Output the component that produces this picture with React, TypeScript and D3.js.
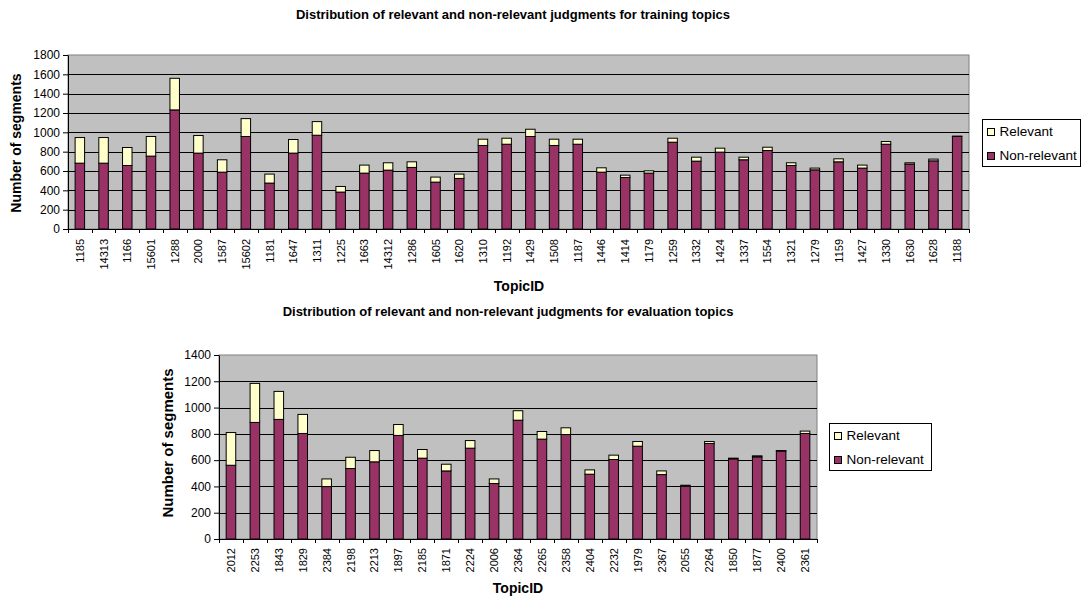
import { useEffect, useRef } from "react";
import * as d3 from "d3";

const trainTopics = [
  "1185", "14313", "1166", "15601", "1288", "2000", "1587", "15602", "1181", "1647",
  "1311", "1225", "1663", "14312", "1286", "1605", "1620", "1310", "1192", "1429",
  "1508", "1187", "1446", "1414", "1179", "1259", "1332", "1424", "1337", "1554",
  "1321", "1279", "1159", "1427", "1330", "1630", "1628", "1188",
];
const trainNonRelevant = [
  681, 681, 657, 754, 1232, 785, 588, 957, 475, 785,
  970, 382, 578, 609, 637, 485, 523, 864, 877, 957,
  864, 877, 588, 533, 578, 898, 702, 795, 716, 812,
  657, 612, 695, 630, 877, 671, 705, 957,
];
const trainRelevant = [
  265, 265, 186, 203, 327, 182, 128, 185, 93, 141,
  141, 58, 83, 76, 58, 52, 45, 65, 62, 75,
  65, 52, 45, 24, 24, 41, 41, 41, 27, 34,
  28, 18, 31, 31, 28, 14, 18, 4,
];

const evalTopics = [
  "2012", "2253", "1843", "1829", "2384", "2198", "2213", "1897", "2185", "1871",
  "2224", "2006", "2364", "2265", "2358", "2404", "2232", "1979", "2367", "2055",
  "2264", "1850", "1877", "2400", "2361",
];
const evalNonRelevant = [
  561, 887, 910, 803, 399, 536, 587, 788, 615, 518,
  691, 422, 904, 760, 795, 493, 605, 706, 490, 401,
  727, 610, 625, 668, 803,
];
const evalRelevant = [
  249, 297, 213, 145, 58, 86, 86, 83, 66, 51,
  58, 35, 72, 58, 51, 33, 33, 36, 28, 8,
  15, 5, 8, 5, 18,
];

const seriesNames = ["Relevant", "Non-relevant"];
const colors = { nonRelevant: "#993366", relevant: "#FFFFCC", plot: "#C0C0C0" };
const font = "'Liberation Sans', Arial, sans-serif";

function drawChart(g, cfg) {
  const { left, right, top, bottom, yMax, step, topics, nonRel, rel, title, titleX, titleY, legend } = cfg;

  const x = d3.scaleBand().domain(topics).range([left, right]).paddingInner(0).paddingOuter(0);
  const y = d3.scaleLinear().domain([0, yMax]).range([bottom, top]);

  g.append("text")
    .attr("x", titleX)
    .attr("y", titleY)
    .attr("text-anchor", "middle")
    .attr("font-family", font)
    .attr("font-weight", "bold")
    .attr("font-size", 13)
    .text(title);

  // plot area
  g.append("rect")
    .attr("x", left)
    .attr("y", top)
    .attr("width", right - left)
    .attr("height", bottom - top)
    .attr("fill", colors.plot)
    .attr("stroke", "#808080")
    .attr("stroke-width", 1);

  const gridTicks = d3.range(step, yMax, step);
  g.selectAll(".grid" + cfg.id)
    .data(gridTicks)
    .enter()
    .append("line")
    .attr("x1", left)
    .attr("x2", right)
    .attr("y1", (d) => Math.round(y(d)) + 0.5)
    .attr("y2", (d) => Math.round(y(d)) + 0.5)
    .attr("stroke", "#000")
    .attr("stroke-width", 1);

  // bars
  const bw = x.bandwidth() * 0.4;
  topics.forEach((t, i) => {
    const cx = x(t) + x.bandwidth() / 2;
    g.append("rect")
      .attr("x", cx - bw / 2)
      .attr("y", y(nonRel[i]))
      .attr("width", bw)
      .attr("height", y(0) - y(nonRel[i]))
      .attr("fill", colors.nonRelevant)
      .attr("stroke", "#000")
      .attr("stroke-width", 1);
    g.append("rect")
      .attr("x", cx - bw / 2)
      .attr("y", y(nonRel[i] + rel[i]))
      .attr("width", bw)
      .attr("height", y(nonRel[i]) - y(nonRel[i] + rel[i]))
      .attr("fill", colors.relevant)
      .attr("stroke", "#000")
      .attr("stroke-width", 1);
  });

  // y axis
  const yAxis = d3
    .axisLeft(y)
    .tickValues(d3.range(0, yMax + 1, step))
    .tickFormat(d3.format("d"))
    .tickSize(5)
    .tickSizeOuter(0)
    .tickPadding(3);
  const ya = g.append("g").attr("transform", `translate(${left},0)`).call(yAxis);
  ya.select(".domain").attr("stroke", "#000");
  ya.selectAll("text").attr("font-family", font).attr("font-size", 12).attr("fill", "#000");

  // x axis, ticks sit between categories
  const xa = g.append("g");
  xa.append("line")
    .attr("x1", left)
    .attr("x2", right)
    .attr("y1", bottom + 0.5)
    .attr("y2", bottom + 0.5)
    .attr("stroke", "#000");
  const bounds = topics.map((t) => x(t)).concat([right]);
  xa.selectAll(".xt")
    .data(bounds)
    .enter()
    .append("line")
    .attr("x1", (d) => Math.round(d) + 0.5)
    .attr("x2", (d) => Math.round(d) + 0.5)
    .attr("y1", bottom)
    .attr("y2", bottom + 4)
    .attr("stroke", "#000");
  xa.selectAll(".xl")
    .data(topics)
    .enter()
    .append("text")
    .attr("transform", (d) => `translate(${x(d) + x.bandwidth() / 2 + 4},${bottom + cfg.labelGap}) rotate(-90)`)
    .attr("text-anchor", "end")
    .attr("font-family", font)
    .attr("font-size", 11)
    .text((d) => d);

  // axis titles
  g.append("text")
    .attr("x", cfg.xTitleX)
    .attr("y", cfg.xTitleY)
    .attr("text-anchor", "middle")
    .attr("font-family", font)
    .attr("font-weight", "bold")
    .attr("font-size", 14)
    .text("TopicID");
  g.append("text")
    .attr("transform", `translate(${cfg.yTitleX},${cfg.yTitleY}) rotate(-90)`)
    .attr("text-anchor", "middle")
    .attr("font-family", font)
    .attr("font-weight", "bold")
    .attr("font-size", cfg.yTitleSize)
    .text("Number of segments");

  // legend
  const lg = g.append("g").attr("transform", `translate(${legend.x},${legend.y})`);
  lg.append("rect")
    .attr("width", legend.w)
    .attr("height", legend.h)
    .attr("fill", "#fff")
    .attr("stroke", "#000")
    .attr("stroke-width", 1);
  seriesNames.forEach((name, i) => {
    const yy = 16 + i * 24;
    lg.append("rect")
      .attr("x", 5)
      .attr("y", yy - 7)
      .attr("width", 7)
      .attr("height", 7)
      .attr("fill", i === 0 ? colors.relevant : colors.nonRelevant)
      .attr("stroke", "#000");
    lg.append("text")
      .attr("x", 17)
      .attr("y", yy)
      .attr("font-family", font)
      .attr("font-size", 13.5)
      .text(name);
  });
}

export default function App() {
  const ref = useRef(null);

  useEffect(() => {
    const svg = d3.select(ref.current);
    svg.selectAll("*").remove();

    drawChart(svg.append("g"), {
      id: "a",
      left: 68,
      right: 969,
      top: 55,
      bottom: 229,
      yMax: 1800,
      step: 200,
      topics: trainTopics,
      nonRel: trainNonRelevant,
      rel: trainRelevant,
      title: "Distribution of relevant and non-relevant judgments for training topics",
      titleX: 513,
      titleY: 19,
      labelGap: 10,
      xTitleX: 519,
      xTitleY: 291,
      yTitleX: 21,
      yTitleY: 143,
      yTitleSize: 14,
      legend: { x: 982.5, y: 119.5, w: 98, h: 47 },
    });

    drawChart(svg.append("g"), {
      id: "b",
      left: 219,
      right: 817,
      top: 355,
      bottom: 539,
      yMax: 1400,
      step: 200,
      topics: evalTopics,
      nonRel: evalNonRelevant,
      rel: evalRelevant,
      title: "Distribution of relevant and non-relevant judgments for evaluation topics",
      titleX: 508,
      titleY: 316,
      labelGap: 9,
      xTitleX: 518,
      xTitleY: 593,
      yTitleX: 173,
      yTitleY: 443,
      yTitleSize: 15,
      legend: { x: 829.5, y: 423.5, w: 102, h: 47 },
    });
  }, []);

  return (
    <svg
      ref={ref}
      width={1082}
      height={598}
      style={{ position: "absolute", left: 0, top: 0, background: "#fff" }}
    />
  );
}
